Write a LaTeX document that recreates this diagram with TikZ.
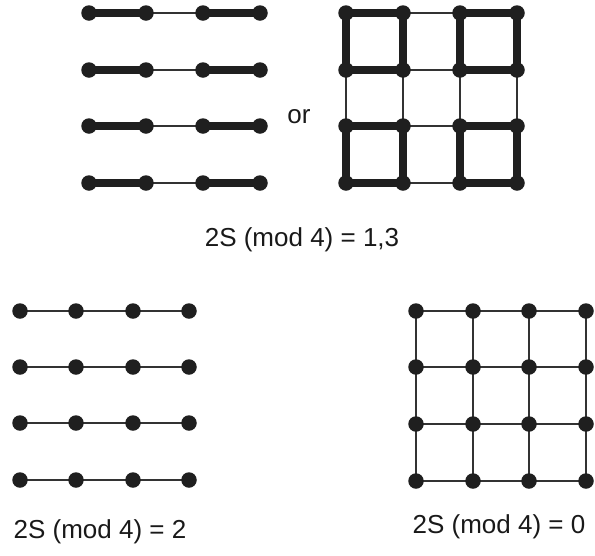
\documentclass[tikz,border=0pt]{standalone}
\usepackage{fontspec}
\setmainfont{Liberation Sans}
\usetikzlibrary{backgrounds}
\tikzset{
  dot/.style={circle,fill=black!88,inner sep=0pt,minimum size=15.5pt},
  thickbond/.style={line width=7.5pt,black!88},
  thinbond/.style={line width=1.4pt,black!80},
  bond/.style={line width=2pt,black!80},
  lbl/.style={font=\fontsize{26}{30}\selectfont,text=black!90,inner sep=0pt}
}
\begin{document}
\begin{tikzpicture}[x=1pt,y=-1pt]
\useasboundingbox (0,0) rectangle (595,555);
% top-left chains
\foreach \j/\yy in {1/13,2/70,3/126,4/183}{
  \foreach \i/\xx in {1/89,2/146,3/203,4/260}{
    \node[dot] (a\i\j) at (\xx,\yy) {};
  }
  \begin{pgfonlayer}{background}
    \draw[thickbond] (a1\j.center) -- (a2\j.center);
    \draw[thinbond] (a2\j.center) -- (a3\j.center);
    \draw[thickbond] (a3\j.center) -- (a4\j.center);
  \end{pgfonlayer}
}
% top-right plaquettes
\foreach \j/\yy in {1/13,2/70,3/126,4/183}{
  \foreach \i/\xx in {1/346,2/403,3/460,4/517}{
    \node[dot] (b\i\j) at (\xx,\yy) {};
  }
}
\begin{pgfonlayer}{background}
  \foreach \j in {1,2,3,4}{
    \draw[thickbond] (b1\j.center) -- (b2\j.center);
    \draw[thinbond] (b2\j.center) -- (b3\j.center);
    \draw[thickbond] (b3\j.center) -- (b4\j.center);
  }
  \foreach \i in {1,2,3,4}{
    \draw[thickbond] (b\i1.center) -- (b\i2.center);
    \draw[thinbond] (b\i2.center) -- (b\i3.center);
    \draw[thickbond] (b\i3.center) -- (b\i4.center);
  }
\end{pgfonlayer}
\node[lbl] (or) at (299,117) {or};
\node[lbl] (l13) at (302,240) {2S (mod 4) = 1,3};
% bottom-left chains
\foreach \j/\yy in {1/311,2/367,3/423,4/480}{
  \foreach \i/\xx in {1/20,2/76,3/133,4/189}{
    \node[dot] (c\i\j) at (\xx,\yy) {};
  }
  \begin{pgfonlayer}{background}
    \draw[bond] (c1\j.center) -- (c2\j.center) -- (c3\j.center) -- (c4\j.center);
  \end{pgfonlayer}
}
% bottom-right square lattice
\foreach \j/\yy in {1/311,2/367,3/424,4/481}{
  \foreach \i/\xx in {1/416,2/473,3/529,4/586}{
    \node[dot] (d\i\j) at (\xx,\yy) {};
  }
}
\begin{pgfonlayer}{background}
  \foreach \j in {1,2,3,4}{
    \draw[bond] (d1\j.center) -- (d2\j.center) -- (d3\j.center) -- (d4\j.center);
    \draw[bond] (d\j1.center) -- (d\j2.center) -- (d\j3.center) -- (d\j4.center);
  }
\end{pgfonlayer}
\node[lbl] (l2) at (100,532) {2S (mod 4) = 2};
\node[lbl] (l0) at (499,527) {2S (mod 4) = 0};
\end{tikzpicture}
\end{document}
